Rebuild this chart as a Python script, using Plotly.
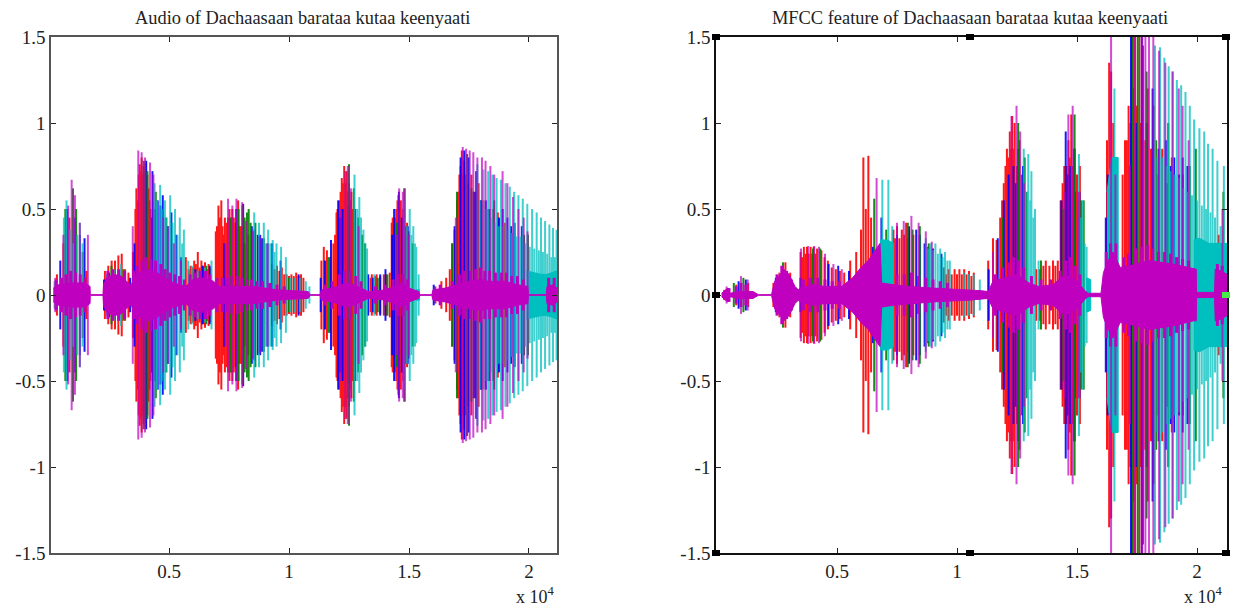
import plotly.graph_objects as go

W, H = 1235, 611
TITLE_L = "Audio of Dachaasaan barataa kutaa keenyaati"
TITLE_R = "MFCC feature of Dachaasaan barataa kutaa keenyaati"
X_TICKS = [5000, 10000, 15000, 20000]
X_LABELS = ["0.5", "1", "1.5", "2"]
Y_TICKS = [-1.5, -1, -0.5, 0, 0.5, 1, 1.5]
Y_LABELS = ["-1.5", "-1", "-0.5", "0", "0.5", "1", "1.5"]
BLUE, GREEN, RED, CYAN, MAGENTA = "#0000ff", "#008000", "#ff0000", "#00bfbf", "#bf00bf"

# (sample, amplitude) spikes, left panel
L_BLUE = [(470,.2),(760,.5),(1090,.45),(1290,.35),(1480,.33),(2290,.09),(2500,.13),(3380,.1),(3560,.3),(4050,.78),(4310,.72),(4530,.55),(4740,.58),(4960,.4),(5100,.48),(5300,.35),(5500,.22),(6100,.15),(6400,.17),(6700,.17),(7300,.3),(7800,.5),(8090,.53),(8450,.4),(8800,.35),(9100,.3),(9300,.3),(9650,.2),(10400,.12),(11320,.1),(11500,.2),(11750,.32),(12050,.55),(12230,.5),(12490,.52),(12760,.5),(13300,.12),(13500,.1),(13800,.12),(14020,.15),(14380,.5),(14580,.6),(14700,.45),(14950,.4),(16030,.06),(16900,.4),(17150,.8),(17300,.84),(17480,.8),(17800,.72),(18200,.55),(18900,.5),(19100,.45),(19400,.42),(19700,.4),(4420,.5),(4640,.52),(8560,.38),(8700,.35),(8880,.33),(12140,.45),(14300,.35),(17700,.6),(18000,.55),(18350,.5),(18750,.45),(19250,.4)]
L_GREEN = [(680,.5),(1000,.62),(1130,.5),(2600,.17),(3100,.15),(3950,.78),(4100,.72),(4450,.6),(4880,.45),(6550,.17),(7560,.45),(7900,.5),(8060,.52),(8320,.5),(8600,.42),(8950,.33),(10000,.1),(11650,.22),(12500,.76),(12700,.62),(13050,.35),(13700,.1),(14100,.12),(14500,.42),(14800,.62),(15150,.3),(16800,.3),(17000,.6),(17420,.82),(18550,.55),(19960,.35),(8150,.45),(8250,.48),(8400,.42),(12880,.45),(13170,.3),(17600,.62),(19800,.35)]
L_RED = [(330,.12),(600,.3),(850,.45),(1400,.25),(1560,.14),(2330,.14),(2470,.17),(2610,.2),(2750,.2),(2890,.23),(3030,.24),(3170,.15),(3310,.13),(3500,.25),(3600,.5),(3700,.55),(3780,.76),(3860,.8),(3940,.75),(4020,.77),(4100,.7),(4180,.55),(4260,.45),(5700,.22),(5900,.17),(6050,.2),(6200,.25),(6350,.2),(6500,.19),(6650,.18),(6950,.37),(7060,.52),(7180,.55),(7270,.35),(7400,.42),(7520,.5),(7640,.5),(7760,.42),(7880,.55),(8000,.4),(8150,.3),(8300,.35),(9300,.18),(9500,.17),(9700,.16),(9900,.12),(10100,.12),(10300,.13),(10500,.12),(11350,.2),(11450,.28),(11580,.26),(11710,.22),(11850,.3),(11980,.48),(12100,.55),(12200,.68),(12300,.75),(12400,.72),(12500,.65),(12600,.6),(13450,.12),(13650,.12),(13950,.12),(14280,.42),(14470,.5),(14560,.58),(14660,.55),(14760,.5),(14880,.4),(15000,.37),(16100,.05),(16350,.08),(16550,.1),(16700,.15),(16800,.3),(16900,.38),(17000,.55),(17100,.7),(17200,.84),(17300,.78),(17600,.7),(17900,.65),(18100,.55),(18500,.5),(19000,.42),(3640,.62),(3740,.7),(3820,.72),(3900,.7),(3980,.72),(4060,.6),(4140,.62),(4220,.5),(5820,.15),(5980,.16),(6120,.18),(6280,.16),(6420,.17),(6580,.15),(6720,.16),(7000,.4),(7120,.45),(7230,.4),(7330,.45),(7460,.45),(7580,.45),(7700,.45),(7820,.4),(7940,.4),(8100,.3),(9400,.15),(9600,.14),(9800,.12),(10000,.11),(10200,.11),(10400,.11),(10600,.1),(11920,.35),(12020,.5),(12150,.6),(12250,.65),(12350,.65),(12450,.6),(12550,.55),(12650,.5),(13400,.1),(13600,.11),(13800,.11),(14050,.12),(14200,.13),(14320,.45),(14420,.45),(14520,.55),(14620,.5),(14720,.45),(14920,.42),(17050,.6),(17150,.75),(17250,.7),(17350,.7),(17450,.65),(17700,.6),(17800,.6),(18000,.55),(18300,.5),(18700,.48)]
L_CYAN = [(230,.08),(730,.55),(1290,.42),(2400,.12),(2700,.15),(3000,.18),(4400,.65),(4630,.64),(4830,.55),(5050,.58),(5250,.5),(5450,.45),(5620,.38),(5800,.2),(5950,.17),(6200,.14),(6500,.16),(6770,.2),(8550,.48),(8750,.42),(8950,.42),(9130,.38),(9320,.32),(9480,.3),(9670,.28),(9870,.22),(10050,.1),(10250,.1),(10450,.1),(10700,.08),(10850,.05),(12730,.7),(12930,.57),(13100,.38),(13250,.27),(13550,.12),(14800,.55),(15030,.5),(15180,.4),(15300,.28),(15400,.12),(17850,.76),(18100,.73),(18300,.72),(18480,.7),(18650,.68),(18830,.67),(19020,.65),(19200,.63),(19380,.6),(19560,.58),(19740,.56),(19930,.53),(20130,.5),(20320,.48),(20500,.45),(20670,.43),(20850,.41),(21000,.39),(21150,.38),(620,.45),(860,.38),(1000,.3),(1180,.35),(1400,.3),(4500,.55),(4700,.5),(4900,.45),(5000,.4),(5150,.42),(5350,.35),(5550,.3),(9020,.3),(9220,.3),(9400,.25),(12850,.5),(13000,.45),(13180,.3),(14920,.4),(15100,.35),(15250,.3),(17950,.55),(18200,.5),(18400,.45),(18570,.42),(18740,.4),(18920,.4),(19110,.38),(19290,.36),(19470,.34),(19650,.34),(19840,.3),(20030,.28),(20220,.27),(20410,.26),(20580,.25),(20760,.24),(20930,.22),(21080,.22)]
L_MAGENTA = [(260,.1),(600,.35),(800,.52),(944,.67),(1080,.58),(1280,.42),(1620,.35),(3490,.4),(3720,.84),(3860,.83),(4000,.8),(4210,.77),(4350,.7),(4760,.45),(4950,.4),(5200,.3),(5500,.2),(7350,.3),(7460,.56),(7640,.52),(7810,.56),(8050,.54),(8210,.43),(8500,.37),(8780,.34),(9110,.3),(12150,.5),(12350,.72),(12450,.75),(12580,.62),(12900,.4),(14480,.35),(14590,.62),(14740,.6),(14830,.62),(14990,.35),(16950,.45),(17240,.86),(17380,.85),(17530,.84),(17680,.83),(17850,.8),(18040,.8),(18190,.78),(18390,.75),(18550,.7),(18900,.72),(19100,.65),(19330,.57),(19560,.5),(19780,.45),(19940,.37)]
# short magenta spikes that roughen the centre band, left panel
L_MID = [(300,.09),(520,.1),(700,.12),(900,.14),(1100,.13),(1300,.12),(1500,.1),(2450,.14),(2650,.15),(2900,.15),(3150,.14),(3520,.14),(3680,.17),(3880,.2),(4040,.22),(4240,.21),(4440,.2),(4660,.18),(4840,.15),(5040,.13),(5240,.12),(5440,.11),(5640,.09),(5880,.12),(6080,.13),(6300,.14),(6520,.14),(6700,.12),(7000,.1),(7220,.1),(7420,.1),(7620,.11),(7840,.11),(8040,.1),(8240,.09),(8440,.09),(8660,.08),(8900,.08),(9200,.07),(9500,.06),(9800,.05),(11500,.06),(11800,.08),(12100,.12),(12320,.14),(12560,.14),(12780,.11),(13000,.08),(13600,.05),(14000,.06),(14340,.09),(14540,.12),(14740,.12),(14940,.09),(16300,.06),(16800,.08),(17100,.12),(17280,.14),(17560,.14),(17780,.15),(17980,.16),(18160,.14),(18360,.14),(18600,.13),(18860,.13),(19060,.13),(19280,.11),(19520,.11),(19760,.09),(20820,.1),(21050,.1)]
# centre bands, left panel
L_CORE_M = [(180,.04),(400,.06),(1000,.07),(1500,.07),(1710,.05),(1720,.002),(2250,.002),(2270,.06),(2400,.1),(2700,.12),(3000,.11),(3300,.07),(3430,.06),(3550,.1),(3800,.13),(4100,.15),(4500,.13),(4800,.1),(5200,.07),(5500,.06),(5700,.05),(6000,.09),(6400,.1),(6850,.08),(7100,.05),(7600,.05),(8500,.05),(9500,.03),(10000,.025),(10800,.02),(10880,.002),(11290,.002),(11350,.03),(11800,.04),(12200,.06),(12500,.07),(13000,.04),(13300,.02),(13500,.02),(14000,.03),(14400,.05),(14700,.07),(15000,.04),(15400,.02),(15460,.002),(15950,.002),(16000,.03),(16500,.04),(17000,.06),(17500,.08),(18000,.09),(18300,.08),(19000,.08),(19500,.06),(19950,.05),(19980,.002),(20720,.002),(20750,.05),(21000,.06),(21167,.04)]
L_CORE_C1 = [(15300,.03),(15440,.03)]
L_CORE_C2 = [(19900,.14),(20200,.13),(20500,.12),(20750,.12),(21000,.13),(21167,.14)]

# (sample, amplitude) spikes, right panel
R_BLUE = [(450,.04),(900,.08),(1200,.09),(2450,.1),(3480,.1),(4650,.18),(5050,.17),(5500,.14),(6500,.28),(6850,.45),(7500,.35),(8000,.4),(8300,.38),(8650,.3),(9000,.27),(9350,.24),(11320,.15),(11700,.33),(11950,.55),(12150,.7),(12350,.75),(12550,.85),(12750,.75),(14350,.55),(14530,.95),(14700,.75),(14900,.85),(15100,.6),(16200,.45),(16280,.7),(17250,1.5),(17700,1.5),(18150,1.2),(18700,.9),(19050,.8),(19400,.8),(19600,.75),(21000,.3),(8450,.35),(8800,.28),(12450,.65),(14620,.7),(17480,1.0),(17900,1.0),(18400,.85),(18900,.75),(19250,.7)]
R_GREEN = [(700,.07),(1100,.1),(2750,.19),(4000,.27),(4300,.27),(6550,.56),(7050,.38),(7950,.42),(8450,.4),(8820,.3),(11900,.45),(12550,1.0),(12820,.8),(13500,.2),(14440,.5),(14900,1.05),(15280,.55),(17330,1.5),(17530,1.5),(17900,1.3),(18800,1.0),(19950,.85),(21100,.6),(8150,.38),(12900,.6),(15180,.55),(18300,.9),(19700,.75)]
R_RED = [(300,.03),(800,.06),(1300,.07),(2350,.07),(2600,.13),(2850,.19),(3050,.13),(3480,.25),(3620,.28),(3750,.28),(3900,.28),(4030,.28),(4170,.27),(4350,.26),(4480,.22),(4620,.2),(4780,.16),(4950,.15),(5120,.14),(5300,.13),(5550,.2),(5800,.25),(6000,.38),(6098,.8),(6200,.5),(6306,.81),(6420,.45),(7350,.38),(7500,.4),(7700,.38),(7880,.42),(8000,.38),(8180,.35),(9450,.16),(9650,.15),(9900,.15),(10100,.15),(10300,.15),(10500,.14),(10700,.13),(11300,.2),(11500,.33),(11650,.32),(11800,.45),(11950,.65),(12080,.85),(12200,.95),(12300,1.04),(12400,1.0),(12600,.9),(12700,.7),(13300,.15),(13700,.2),(14000,.2),(14200,.2),(14320,.55),(14470,.75),(14640,.9),(14760,1.05),(14880,.85),(15000,.7),(15120,.75),(16250,.9),(16340,1.35),(16420,1.3),(16510,1.0),(16650,.35),(16900,.7),(17000,.9),(17150,1.1),(17290,1.5),(17420,1.5),(17600,1.5),(17750,1.45),(17950,1.2),(18200,1.1),(18550,.85),(18950,.8),(19400,.7),(20900,.35),(3550,.22),(3680,.24),(3820,.24),(3960,.24),(4100,.24),(7420,.33),(7600,.33),(7800,.35),(7950,.33),(9550,.12),(9780,.12),(10000,.12),(10200,.12),(10400,.12),(10600,.11),(11880,.55),(12020,.75),(12140,.8),(12250,.85),(12350,.85),(12500,.75),(13450,.15),(13600,.17),(13850,.17),(14100,.17),(14400,.65),(14560,.75),(14700,.8),(14820,.75),(14950,.6),(15060,.55),(17080,.9),(17220,1.0),(17360,1.2),(17500,1.1),(17660,1.0),(17850,.9),(18080,.85),(18350,.7),(18750,.65)]
R_CYAN = [(6889,.67),(7140,.67),(7300,.4),(8700,.33),(8900,.3),(9100,.3),(9300,.27),(9500,.25),(9700,.2),(10300,.13),(10500,.12),(10700,.12),(10950,.09),(12780,.85),(12970,.82),(13100,.72),(13250,.5),(13400,.2),(15080,.82),(15240,.55),(15400,.28),(16560,1.2),(16700,.8),(18250,1.45),(18460,1.44),(18640,1.38),(18820,1.33),(18990,1.3),(19160,1.25),(19340,1.22),(19520,1.18),(19700,1.1),(19880,1.02),(20100,.97),(20300,.95),(20460,.88),(20650,.85),(20850,.78),(21120,.75),(8800,.27),(9000,.26),(9200,.24),(9400,.22),(9600,.2),(12860,.6),(13050,.55),(13180,.45),(15160,.45),(15320,.3),(18350,.8),(18550,.8),(18730,.75),(18900,.72),(19080,.7),(19250,.68),(19430,.62),(19610,.6),(19790,.58),(20000,.55),(20200,.52),(20380,.5),(20560,.48),(20750,.45),(20980,.4)]
R_MAGENTA = [(400,.05),(1000,.11),(1280,.09),(3500,.27),(3800,.285),(4050,.285),(4250,.28),(4500,.24),(4850,.18),(5200,.15),(6650,.68),(7500,.42),(7780,.43),(8100,.46),(8400,.42),(8700,.37),(8950,.31),(11500,.25),(12270,1.04),(12480,1.1),(12630,.95),(12790,.65),(14480,.6),(14640,1.05),(14820,1.1),(15060,.6),(16420,1.5),(16600,.7),(17200,.75),(17400,1.5),(17720,1.5),(17850,1.5),(18000,1.5),(18180,1.5),(18420,1.42),(18680,1.35),(18980,1.3),(19240,1.2),(19400,1.1),(19650,.9),(21060,.5)]
# short magenta spikes that roughen the centre band, right panel
R_MID = [(500,.04),(800,.05),(1000,.07),(1200,.06),(2500,.12),(2700,.17),(2900,.14),(3100,.09),(3600,.09),(3900,.1),(4200,.1),(4500,.09),(4800,.08),(5100,.08),(7500,.12),(7800,.12),(8100,.13),(8400,.11),(8700,.1),(9000,.09),(9300,.08),(9600,.07),(11600,.12),(11900,.16),(12150,.19),(12350,.22),(12550,.2),(12780,.16),(13100,.11),(13500,.09),(13900,.09),(14300,.14),(14520,.2),(14720,.22),(14920,.17),(15120,.12),(16220,.25),(16400,.3),(16620,.3),(16950,.22),(17150,.24),(17450,.27),(17700,.28),(17950,.29),(18150,.27),(18400,.25),(18650,.25),(18900,.24),(19150,.22),(19400,.21),(19650,.2),(20850,.18),(21050,.17)]
# centre bands, right panel
R_CORE_M = [(190,.01),(400,.035),(540,.01),(900,.02),(1500,.02),(1730,.002),(2270,.002),(2400,.08),(2650,.12),(2790,.15),(3000,.12),(3250,.05),(3390,.03),(3460,.04),(4000,.06),(4500,.05),(5200,.05),(5650,.1),(6000,.16),(6300,.2),(6790,.3),(6860,.07),(7350,.06),(8000,.05),(9000,.04),(10500,.03),(11000,.025),(11300,.02),(11500,.08),(12000,.1),(12500,.12),(13000,.07),(13400,.05),(14000,.06),(14500,.12),(15000,.08),(15360,.02),(15470,.01),(16000,.01),(16100,.13),(16300,.2),(16500,.25),(16800,.16),(17200,.17),(18000,.2),(19000,.18),(19860,.15),(19970,.15),(19980,.015),(20730,.015),(20760,.15),(21000,.14),(21250,.12)]
R_CORE_C1 = [(6790,.32),(7100,.32),(7350,.3)]
R_CORE_C2 = [(15380,.1),(15570,.09)]
R_CORE_C3 = [(16250,.6),(16450,.8),(16700,.8)]
R_CORE_C4 = [(19860,.32),(20100,.33),(20500,.3),(20760,.3),(21250,.3)]


def spikes(pairs, color, xa, ya, width=2, opacity=0.9):
    xs, ys = [], []
    for s, a in pairs:
        xs += [s, s, None]
        ys += [a, -a, None]
    return go.Scatter(x=xs, y=ys, mode="lines", xaxis=xa, yaxis=ya, opacity=opacity,
                      line=dict(color=color, width=width), hoverinfo="skip", showlegend=False)


def band(pairs, color, xa, ya):
    xs = [p[0] for p in pairs]
    ys = [p[1] for p in pairs]
    return go.Scatter(x=xs + xs[::-1], y=ys + [-v for v in ys[::-1]], mode="lines", fill="toself",
                      fillcolor=color, line=dict(color=color, width=1), xaxis=xa, yaxis=ya,
                      hoverinfo="skip", showlegend=False)


fig = go.Figure()
for xa, ya, s, mid, cm, ccs in [("x", "y", [L_BLUE, L_GREEN, L_RED, L_CYAN, L_MAGENTA], L_MID, L_CORE_M, [L_CORE_C1, L_CORE_C2]),
                                ("x2", "y2", [R_BLUE, R_GREEN, R_RED, R_CYAN, R_MAGENTA], R_MID, R_CORE_M, [R_CORE_C1, R_CORE_C2, R_CORE_C3, R_CORE_C4])]:
    fig.add_trace(spikes(s[2], RED, xa, ya))
    fig.add_trace(spikes(s[0], BLUE, xa, ya))
    fig.add_trace(spikes(s[1], GREEN, xa, ya))
    for cc in ccs:
        fig.add_trace(band(cc, CYAN, xa, ya))
    fig.add_trace(spikes(s[3], CYAN, xa, ya, opacity=0.75))
    fig.add_trace(spikes(s[4], MAGENTA, xa, ya, opacity=0.7))
    fig.add_trace(spikes(mid, MAGENTA, xa, ya, width=3, opacity=1))
    fig.add_trace(band(cm, MAGENTA, xa, ya))

font = dict(family="Liberation Serif", size=19, color="#222222")


def xax(dom, rng, color):
    return dict(domain=dom, range=rng, tickvals=X_TICKS, ticktext=X_LABELS, ticks="inside", ticklen=5,
                tickcolor="#222", showgrid=False, zeroline=False, showline=True, linecolor=color,
                linewidth=1.5, mirror="allticks", tickfont=font)


def yax(anchor, color):
    return dict(domain=[1 - 553 / H, 1 - 37 / H], range=[-1.5, 1.5], tickvals=Y_TICKS, ticktext=Y_LABELS,
                ticks="inside", ticklen=5, tickcolor="#222", showgrid=False, zeroline=False, showline=True,
                linecolor=color, linewidth=1.5, mirror="allticks", tickfont=font, anchor=anchor)


ann = []
for cx, t in [(302 / W, TITLE_L), (970 / W, TITLE_R)]:
    ann.append(dict(text=t, x=cx, y=1 - 18 / H, xref="paper", yref="paper", showarrow=False, xanchor="center",
                    yanchor="middle", font=dict(family="Liberation Serif", size=18.4, color="#222")))
for cx in [535 / W, 1203 / W]:
    ann.append(dict(text="x 10<sup>4</sup>", x=cx, y=1 - 595 / H, xref="paper", yref="paper", showarrow=False,
                    xanchor="center", yanchor="middle", font=dict(family="Liberation Serif", size=18, color="#222")))

handles = [(716, 37), (970, 37), (1226, 37), (716, 295), (1226, 295), (716, 553), (970, 553), (1226, 553)]
shapes = []
for hx, hy in handles:
    shapes.append(dict(type="rect", xref="paper", yref="paper", x0=(hx - 4) / W, x1=(hx + 4) / W,
                       y0=1 - (hy + 3) / H, y1=1 - (hy - 3) / H,
                       fillcolor="#44ee44" if (hx, hy) == (1226, 295) else "black", line=dict(width=0)))

fig.update_layout(width=W, height=H, margin=dict(l=0, r=0, t=0, b=0, autoexpand=False), paper_bgcolor="white",
                  plot_bgcolor="white",
                  xaxis=xax([51 / W, 557 / W], [83, 21167], "#555"), yaxis=yax("x", "#555"),
                  xaxis2=xax([716 / W, 1227 / W], [-42, 21250], "#111"), yaxis2=yax("x2", "#111"),
                  annotations=ann, shapes=shapes, showlegend=False)
fig.write_html("out.html", config={"displayModeBar": False}, post_script="document.body.style.margin='0';")
